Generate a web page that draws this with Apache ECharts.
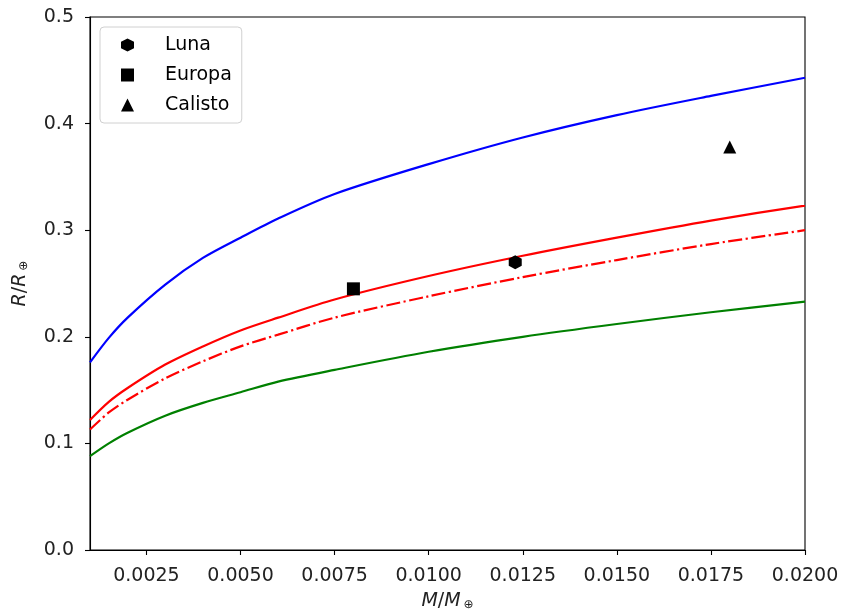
<!DOCTYPE html>
<html>
<head>
<meta charset="utf-8">
<script src="https://cdn.jsdelivr.net/npm/echarts@6/dist/echarts.min.js"></script>
<style>html,body{margin:0;padding:0;background:#fff}#c{width:841px;height:612px}</style>
</head>
<body>
<div id="c"></div>
<script>
// ---- data ----
const massX   = [0.001, 0.0015, 0.002, 0.003, 0.004, 0.005, 0.006, 0.0075, 0.01, 0.0125, 0.015, 0.0175, 0.02];
const blueR   = [0.176, 0.199, 0.218, 0.249, 0.274, 0.293, 0.311, 0.334, 0.362, 0.387, 0.408, 0.426, 0.443];
const redR    = [0.122, 0.139, 0.152, 0.174, 0.191, 0.206, 0.218, 0.235, 0.257, 0.276, 0.293, 0.309, 0.323];
const redDashR= [0.113, 0.129, 0.141, 0.161, 0.177, 0.191, 0.202, 0.218, 0.238, 0.256, 0.272, 0.287, 0.300];
const greenR  = [0.088, 0.100, 0.110, 0.126, 0.138, 0.148, 0.158, 0.169, 0.186, 0.200, 0.212, 0.223, 0.233];
const moonNames = ['Luna', 'Europa', 'Calisto'];
const moonM     = [0.0123, 0.0080, 0.0180];
const moonR     = [0.270, 0.245, 0.378];
const xTicks = [0.0025, 0.005, 0.0075, 0.01, 0.0125, 0.015, 0.0175, 0.02];
const yTicks = [0, 0.1, 0.2, 0.3, 0.4, 0.5];

const FONT = 'DejaVu Sans';
const FS = 19;
const hexPath = 'path://M0,-1 L0.866,-0.5 L0.866,0.5 L0,1 L-0.866,0.5 L-0.866,-0.5 Z';
const moonSymbols = [hexPath, 'rect', 'triangle'];
const moonSizes = [[13, 14], 13, 13];

const pairs = ys => massX.map((x, i) => [x, ys[i]]);

const lineSeries = (ys, color, type) => ({
  type: 'line', data: pairs(ys), smooth: 0.3, showSymbol: false, symbol: 'none',
  lineStyle: { color: color, width: 2.2, type: type || 'solid' },
  silent: true, z: 2
});

const series = [
  lineSeries(blueR, '#0000ff'),
  lineSeries(redR, '#ff0000'),
  lineSeries(redDashR, '#ff0000', [14, 3.5, 2.2, 3.5]),
  lineSeries(greenR, '#008000')
];
moonNames.forEach((n, i) => {
  series.push({
    type: 'scatter', name: n, data: [[moonM[i], moonR[i]]],
    symbol: moonSymbols[i], symbolSize: moonSizes[i], symbolKeepAspect: false,
    itemStyle: { color: '#000', opacity: 1 }, z: 5
  });
});

const chart = echarts.init(document.getElementById('c'), null, { renderer: 'canvas' });
chart.setOption({
  animation: false,
  backgroundColor: '#fff',
  textStyle: { fontFamily: FONT },
  grid: { left: 90, right: 36, top: 17, bottom: 62, containLabel: false, outerBoundsMode: 'none',
          show: true, borderColor: '#000', borderWidth: 1.1, backgroundColor: '#fff' },
  legend: {
    orient: 'vertical', left: 100, top: 27,
    data: moonNames.map((n, i) => ({ name: n, icon: moonSymbols[i] })),
    itemWidth: 13, itemHeight: 13, itemGap: 10, symbolKeepAspect: false,
    padding: [8, 10, 8, 21],
    backgroundColor: '#fff', borderColor: '#d0d0d0', borderWidth: 1, borderRadius: 4,
    textStyle: { fontFamily: FONT, fontSize: FS, color: '#000', padding: [0, 0, 0, 26], lineHeight: 20 },
    itemStyle: { color: '#000', opacity: 1 }
  },
  xAxis: {
    type: 'value', min: 0.001, max: 0.02,
    splitLine: { show: false },
    axisLine: { show: true, onZero: false, lineStyle: { color: '#000', width: 1.1 } },
    axisTick: { show: true, inside: false, length: 5, customValues: xTicks, lineStyle: { color: '#000', width: 1.1 } },
    axisLabel: { customValues: xTicks, formatter: v => v.toFixed(4), fontFamily: FONT, fontSize: FS, color: '#222', margin: 17 },
    name: '{i|M}{n|/}{i|M}{s|⊕}', nameLocation: 'middle', nameGap: 41,
    nameTextStyle: { rich: {
      i: { fontFamily: FONT, fontSize: FS, fontStyle: 'italic', color: '#222' },
      n: { fontFamily: FONT, fontSize: FS, color: '#222' },
      s: { fontFamily: FONT, fontSize: 12, color: '#222', verticalAlign: 'bottom', padding: [8, 0, 0, 3] }
    } }
  },
  yAxis: {
    type: 'value', min: 0, max: 0.5, interval: 0.1,
    splitLine: { show: false },
    axisLine: { show: true, onZero: false, lineStyle: { color: '#000', width: 1.1 } },
    axisTick: { show: true, inside: false, length: 5, lineStyle: { color: '#000', width: 1.1 } },
    axisLabel: { formatter: v => v.toFixed(1), fontFamily: FONT, fontSize: FS, color: '#222', margin: 16 },
    name: '{i|R}{n|/}{i|R}{s|⊕}', nameLocation: 'middle', nameGap: 60,
    nameTextStyle: { rich: {
      i: { fontFamily: FONT, fontSize: FS, fontStyle: 'italic', color: '#222' },
      n: { fontFamily: FONT, fontSize: FS, color: '#222' },
      s: { fontFamily: FONT, fontSize: 12, color: '#222', verticalAlign: 'bottom', padding: [8, 0, 0, 3] }
    } }
  },
  series: series
});
</script>
</body>
</html>
